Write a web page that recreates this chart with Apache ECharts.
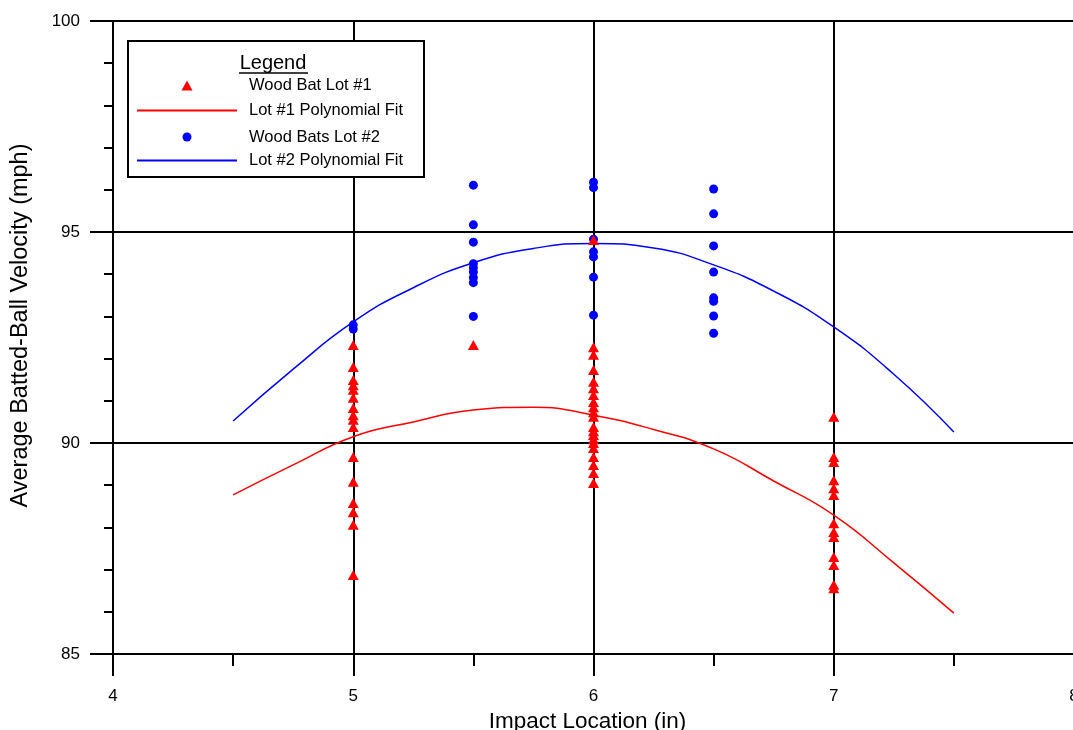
<!DOCTYPE html>
<html>
<head>
<meta charset="utf-8">
<script src="https://cdn.jsdelivr.net/npm/echarts@6/dist/echarts.min.js"></script>
<style>
html,body{margin:0;padding:0;background:#fff;overflow:hidden;}
#chart{width:1073px;height:730px;}
</style>
</head>
<body>
<div id="chart"></div>
<script>
// Tick values
var xTicks = [4, 5, 6, 7, 8];
var yTicks = [85, 90, 95, 100];

// Wood Bat Lot #1 (red triangles)
var lot1Impact = [
  5,5,5,5,5,5,5,5,5,5,5,5,5,5,5,5,
  5.5,
  6,6,6,6,6,6,6,6,6,6,6,6,6,6,6,6,6,6,6,6,6,
  7,7,7,7,7,7,7,7,7,7,7,7,7
];
var lot1Velocity = [
  92.32,91.80,91.49,91.37,91.26,91.07,90.83,90.66,90.55,90.38,89.67,89.08,88.58,88.36,88.06,86.87,
  92.32,
  94.81,92.27,92.09,91.73,91.45,91.30,91.14,90.97,90.85,90.73,90.62,90.38,90.28,90.19,90.09,90.00,89.88,89.67,89.48,89.29,89.05,
  90.62,89.67,89.55,89.12,88.93,88.77,88.10,87.89,87.77,87.30,87.11,86.64,86.56
];

// Wood Bats Lot #2 (blue dots)
var lot2Impact = [
  5,5,
  5.5,5.5,5.5,5.5,5.5,5.5,5.5,5.5,5.5,
  6,6,6,6,6,6,6,
  6.5,6.5,6.5,6.5,6.5,6.5,6.5,6.5
];
var lot2Velocity = [
  92.80,92.70,
  96.11,95.17,94.76,94.25,94.15,94.05,93.92,93.80,93.00,
  96.18,96.05,94.83,94.53,94.41,93.93,93.03,
  96.02,95.43,94.67,94.05,93.44,93.36,93.01,92.60
];

// Polynomial fits
var fitImpact = [4.5,4.75,5,5.25,5.5,5.75,6,6.25,6.5,6.75,7,7.25,7.5];
var fit1Velocity = [88.77,89.48,90.15,90.50,90.78,90.85,90.66,90.32,89.86,89.10,88.29,87.16,85.97];
var fit2Velocity = [90.52,91.75,92.87,93.68,94.27,94.61,94.73,94.62,94.22,93.60,92.75,91.63,90.26];

function zip(xs, ys){ return xs.map(function(x,i){ return [x, ys[i]]; }); }

var FONT = "'Liberation Sans', Arial, sans-serif";
var chart = echarts.init(document.getElementById('chart'), null, {renderer:'canvas'});

function legendItem(name, left, top, w, h, padLeft, icon){
  var o = {
    data: [name], orient: 'vertical', left: left, top: top, padding: 0,
    itemWidth: w, itemHeight: h, selectedMode: false, z: 6,
    textStyle: {fontFamily: FONT, fontSize: 16.5, color: '#000', padding: [0,0,0,padLeft]}
  };
  if (icon) o.icon = icon;
  return o;
}

chart.setOption({
  animation: false,
  backgroundColor: '#fff',
  grid: {left: 113, top: 21, width: 961, height: 633, containLabel: false, outerBoundsMode: 'none'},
  xAxis: {
    type: 'value', min: xTicks[0], max: xTicks[xTicks.length-1], interval: 1,
    name: 'Impact Location (in)', nameLocation: 'middle', nameGap: 47,
    nameTextStyle: {fontFamily: FONT, fontSize: 22.5, color: '#000', padding: [0,12,0,0]},
    axisLine: {show: true, lineStyle: {color: '#000', width: 2}},
    axisTick: {show: true, length: 22, lineStyle: {color: '#000', width: 2}},
    minorTick: {show: true, splitNumber: 2, length: 12, lineStyle: {color: '#000', width: 2}},
    axisLabel: {margin: 34, fontFamily: FONT, fontSize: 17, color: '#000'},
    splitLine: {show: true, lineStyle: {color: '#000', width: 2}}
  },
  yAxis: {
    type: 'value', min: yTicks[0], max: yTicks[yTicks.length-1], interval: 5,
    name: 'Average Batted-Ball Velocity (mph)', nameLocation: 'middle', nameGap: 80,
    nameTextStyle: {fontFamily: FONT, fontSize: 23.5, color: '#000', padding: [0,0,0,24]},
    axisLine: {show: true, lineStyle: {color: '#000', width: 2}},
    axisTick: {show: true, length: 23, lineStyle: {color: '#000', width: 2}},
    minorTick: {show: true, splitNumber: 5, length: 9, lineStyle: {color: '#000', width: 2}},
    axisLabel: {margin: 33, fontFamily: FONT, fontSize: 17, color: '#000'},
    splitLine: {show: true, lineStyle: {color: '#000', width: 2}}
  },
  graphic: [
    {type: 'rect', left: 127, top: 40, z: 3,
     shape: {width: 296, height: 136},
     style: {fill: '#fff', stroke: '#000', lineWidth: 2}},
    {type: 'text', z: 6, x: 273, y: 63,
     style: {text: 'Legend', fontFamily: FONT, fontSize: 20, fill: '#000', align: 'center', verticalAlign: 'middle'}},
    {type: 'line', z: 6, shape: {x1: 239, y1: 73, x2: 308, y2: 73},
     style: {stroke: '#000', lineWidth: 1.5}}
  ],
  legend: [
    legendItem('Wood Bat Lot #1', 181.5, 77, 11, 10, 51.5),
    legendItem('Lot #1 Polynomial Fit', 137, 102, 100, 2, 7, 'rect'),
    legendItem('Wood Bats Lot #2', 182.5, 128.5, 9, 9, 52.5),
    legendItem('Lot #2 Polynomial Fit', 137, 152, 100, 2, 7, 'rect')
  ],
  series: [
    {name: 'Lot #1 Polynomial Fit', type: 'line', data: zip(fitImpact, fit1Velocity),
     smooth: 0.5, symbol: 'none', z: 3,
     lineStyle: {color: '#ff0000', width: 1.5}, itemStyle: {color: '#ff0000'}},
    {name: 'Lot #2 Polynomial Fit', type: 'line', data: zip(fitImpact, fit2Velocity),
     smooth: 0.5, symbol: 'none', z: 3,
     lineStyle: {color: '#0000ff', width: 1.5}, itemStyle: {color: '#0000ff'}},
    {name: 'Wood Bats Lot #2', type: 'scatter', data: zip(lot2Impact, lot2Velocity),
     symbol: 'circle', symbolSize: 9, z: 4, itemStyle: {color: '#0000ff', opacity: 1}},
    {name: 'Wood Bat Lot #1', type: 'scatter', data: zip(lot1Impact, lot1Velocity),
     symbol: 'triangle', symbolSize: [11, 10], z: 5, itemStyle: {color: '#ff0000', opacity: 1}}
  ]
});
</script>
</body>
</html>
